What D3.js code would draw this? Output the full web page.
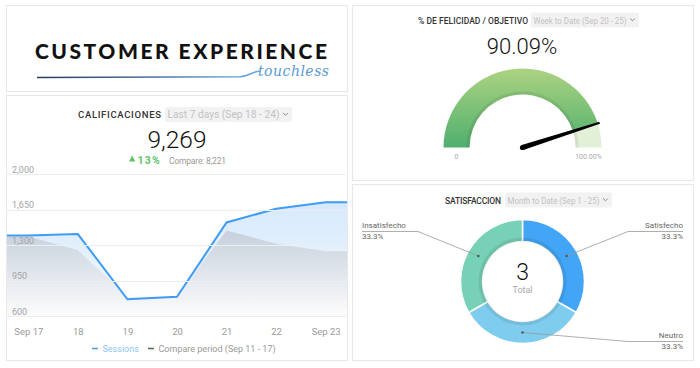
<!DOCTYPE html>
<html>
<head>
<meta charset="utf-8">
<script src="https://cdn.jsdelivr.net/npm/d3@7"></script>
<style>
  body { margin: 0; background: #fff; }
  svg { display: block; font-family: Roboto, "Noto Sans", sans-serif; }
</style>
</head>
<body>
<div id="dash"></div>
<script>
// data
var days = ["Sep 17", "18", "19", "20", "21", "22", "Sep 23"];
var sessions = [1395, 1410, 765, 790, 1525, 1660, 1724];
var comparePeriod = [1385, 1250, 790, 795, 1445, 1315, 1241];
var yTicks = [600, 950, 1300, 1650, 2000];
var gaugeValue = 90.09;
var gaugeMax = 100;
var satLabels = ["Satisfecho", "Neutro", "Insatisfecho"];
var satValues = [1, 1, 1];
var satColors = ["#42a5f5", "#7ecdee", "#77d1b6"];

var svg = d3.select("#dash").append("svg")
    .attr("width", 700)
    .attr("height", 368);
var defs = svg.append("defs");

// panels
var panels = [
    {x: 6, y: 5, w: 341, h: 86},
    {x: 6, y: 95, w: 341, h: 265},
    {x: 352, y: 5, w: 341, h: 175},
    {x: 352, y: 184, w: 341, h: 176}
];
svg.selectAll("rect.panel")
    .data(panels)
    .enter().append("rect")
    .attr("class", "panel")
    .attr("x", d => d.x + 0.5)
    .attr("y", d => d.y + 0.5)
    .attr("width", d => d.w)
    .attr("height", d => d.h)
    .attr("fill", "#fff")
    .attr("stroke", "#e8e8e8");

// header: title + grey dropdown
function header(x, y, title, titleW, period, boxX, boxW, size) {
    svg.append("text")
        .attr("x", x).attr("y", y)
        .attr("font-size", size).attr("font-weight", 500)
        .attr("textLength", titleW)
        .attr("fill", "#333")
        .text(title);
    svg.append("rect")
        .attr("x", boxX).attr("y", y - 11)
        .attr("width", boxW).attr("height", 15)
        .attr("rx", 2)
        .attr("fill", "#f2f2f2");
    svg.append("text")
        .attr("x", boxX + 2.5).attr("y", y)
        .attr("font-size", size + 1)
        .attr("textLength", boxW - 15)
        .attr("lengthAdjust", "spacingAndGlyphs")
        .attr("fill", "#c2c2c2")
        .text(period);
    var cx = boxX + boxW - 6.5;
    svg.append("path")
        .attr("d", `M${cx - 2.3},${y - 5} L${cx},${y - 2.7} L${cx + 2.3},${y - 5}`)
        .attr("fill", "none")
        .attr("stroke", "#888")
        .attr("stroke-width", 1);
}

// ---------- logo ----------
var logoGrad = defs.append("linearGradient").attr("id", "logoGrad");
logoGrad.append("stop").attr("offset", "0%").attr("stop-color", "#2a3a60");
logoGrad.append("stop").attr("offset", "100%").attr("stop-color", "#6aa8de");
svg.append("text")
    .attr("x", 35).attr("y", 59)
    .attr("font-family", "Lato, sans-serif")
    .attr("font-size", 21).attr("font-weight", 900)
    .attr("textLength", 292)
    .attr("lengthAdjust", "spacing")
    .attr("fill", "#111")
    .text("CUSTOMER EXPERIENCE");
svg.append("path")
    .attr("d", "M37,77.5 L240,76.8 C248,76.5 252,71.5 260,71")
    .attr("fill", "none")
    .attr("stroke", "url(#logoGrad)")
    .attr("stroke-width", 1.6);
svg.append("text")
    .attr("x", 258).attr("y", 76)
    .attr("font-family", "'DejaVu Serif', serif")
    .attr("font-style", "italic")
    .attr("font-size", 14)
    .attr("textLength", 71)
    .attr("fill", "#5b9bd5")
    .text("touchless");

// ---------- CALIFICACIONES line chart ----------
header(78, 118, "CALIFICACIONES", 83, "Last 7 days (Sep 18 - 24)", 165, 127, 9.5);

svg.append("text")
    .attr("x", 177).attr("y", 148)
    .attr("text-anchor", "middle")
    .attr("font-size", 24.5).attr("font-weight", 300)
    .attr("fill", "#111")
    .text(d3.format(",")(d3.sum(sessions)));
var change = Math.round((d3.sum(sessions) / d3.sum(comparePeriod) - 1) * 100);
svg.append("path")
    .attr("d", "M129,161.5 L132.2,155.5 L135.4,161.5 Z")
    .attr("fill", "#5fc46a");
svg.append("text")
    .attr("x", 137.5).attr("y", 164)
    .attr("font-size", 10.5).attr("font-weight", 700)
    .attr("letter-spacing", 1.2)
    .attr("fill", "#5fc46a")
    .text(change + "%");
svg.append("text")
    .attr("x", 169).attr("y", 164)
    .attr("font-size", 8.5).attr("fill", "#9a9a9a")
    .attr("textLength", 57)
    .text("Compare: " + d3.format(",")(d3.sum(comparePeriod)));

var plotLeft = 7, plotRight = 347;
var xScale = d3.scalePoint().domain(days).range([plotLeft, plotRight]).padding(0.43);
var yScale = d3.scaleLinear().domain([600, 2000]).range([316, 174.4]);

defs.append("clipPath").attr("id", "plotClip")
    .append("rect").attr("x", plotLeft).attr("y", 150)
    .attr("width", plotRight - plotLeft).attr("height", 166);

var blueGrad = defs.append("linearGradient").attr("id", "blueGrad")
    .attr("gradientUnits", "userSpaceOnUse")
    .attr("x1", 0).attr("x2", 0).attr("y1", yScale(1800)).attr("y2", yScale(600));
blueGrad.append("stop").attr("offset", "0%").attr("stop-color", "#d4e8fc");
blueGrad.append("stop").attr("offset", "100%").attr("stop-color", "#f5f9fe");
var greyGrad = defs.append("linearGradient").attr("id", "greyGrad")
    .attr("gradientUnits", "userSpaceOnUse")
    .attr("x1", 0).attr("x2", 0).attr("y1", yScale(1450)).attr("y2", yScale(600));
greyGrad.append("stop").attr("offset", "0%").attr("stop-color", "#c6d0db");
greyGrad.append("stop").attr("offset", "100%").attr("stop-color", "#fcfcfd");

// series points, held flat out to the plot edges
function seriesPoints(values) {
    var pts = values.map((v, i) => [xScale(days[i]), v]);
    pts.unshift([plotLeft, values[0]]);
    pts.push([plotRight, values[values.length - 1]]);
    return pts;
}
var area = d3.area().x(d => d[0]).y0(yScale(600)).y1(d => yScale(d[1]));
var line = d3.line().x(d => d[0]).y(d => yScale(d[1]));

var plot = svg.append("g").attr("clip-path", "url(#plotClip)");
plot.append("path").attr("d", area(seriesPoints(sessions))).attr("fill", "url(#blueGrad)");

// gridlines
svg.append("g").selectAll("line")
    .data(yTicks)
    .enter().append("line")
    .attr("x1", plotLeft).attr("x2", plotRight - 1)
    .attr("y1", d => Math.round(yScale(d)) + 0.5)
    .attr("y2", d => Math.round(yScale(d)) + 0.5)
    .attr("stroke", "#eceef1");

plot.append("path").attr("d", area(seriesPoints(comparePeriod))).attr("fill", "url(#greyGrad)");
plot.append("path").attr("d", line(seriesPoints(sessions)))
    .attr("fill", "none")
    .attr("stroke", "#3f9cf2")
    .attr("stroke-width", 2);

svg.append("g").selectAll("text")
    .data(yTicks)
    .enter().append("text")
    .attr("x", 12)
    .attr("y", d => yScale(d) - 1.5)
    .attr("font-size", 9).attr("fill", "#a3a3a3")
    .text(d => d3.format(",")(d));

var xAxis = svg.append("g")
    .attr("transform", "translate(0,335)")
    .call(d3.axisBottom(xScale).tickSize(0).tickPadding(0));
xAxis.select(".domain").remove();
xAxis.selectAll("text")
    .attr("dy", 0)
    .attr("font-family", "Roboto, sans-serif")
    .attr("font-size", 9.5)
    .attr("fill", "#9a9a9a");

// legend
svg.append("line").attr("x1", 92).attr("x2", 98).attr("y1", 348.5).attr("y2", 348.5)
    .attr("stroke", "#4aa3f3").attr("stroke-width", 1.6);
svg.append("text").attr("x", 102.5).attr("y", 351.5)
    .attr("font-size", 9).attr("fill", "#90c6f6").text("Sessions");
svg.append("line").attr("x1", 148).attr("x2", 154).attr("y1", 348.5).attr("y2", 348.5)
    .attr("stroke", "#666").attr("stroke-width", 1.6);
svg.append("text").attr("x", 158.5).attr("y", 351.5)
    .attr("font-size", 9).attr("fill", "#9a9a9a").text("Compare period (Sep 11 - 17)");

// ---------- gauge ----------
header(418, 23.5, "% DE FELICIDAD / OBJETIVO", 110, "Week to Date (Sep 20 - 25)", 531, 108, 8.5);
svg.append("text")
    .attr("x", 522).attr("y", 54)
    .attr("text-anchor", "middle")
    .attr("font-size", 22).attr("font-weight", 300)
    .attr("fill", "#111")
    .text(gaugeValue.toFixed(2) + "%");

var gx = 522.5, gy = 147.5, gOuter = 79, gInner = 53;
var angle = d3.scaleLinear().domain([0, gaugeMax]).range([-Math.PI / 2, Math.PI / 2]);
// gradient in the gauge group's own coordinates
var gGrad = defs.append("linearGradient").attr("id", "gaugeGrad")
    .attr("gradientUnits", "userSpaceOnUse")
    .attr("x1", 0).attr("x2", 0).attr("y1", -gOuter).attr("y2", 0);
gGrad.append("stop").attr("offset", "0%").attr("stop-color", "#acd381");
gGrad.append("stop").attr("offset", "100%").attr("stop-color", "#50af6e");

var gauge = svg.append("g").attr("transform", `translate(${gx},${gy})`);
var gArc = d3.arc().innerRadius(gInner).outerRadius(gOuter);
gauge.append("path")
    .attr("d", gArc({startAngle: angle(gaugeValue), endAngle: angle(gaugeMax)}))
    .attr("fill", "#e3f0d8");
gauge.append("path")
    .attr("d", gArc({startAngle: angle(0), endAngle: angle(gaugeValue)}))
    .attr("fill", "url(#gaugeGrad)");
gauge.append("path")
    .attr("d", d3.arc().innerRadius(gInner).outerRadius(gInner + 3)({startAngle: angle(0), endAngle: angle(gaugeMax)}))
    .attr("fill", "#000").attr("opacity", 0.07);

// needle
var a = angle(gaugeValue);
var nLen = gOuter + 2;
var ux = Math.sin(a), uy = -Math.cos(a);
var px = -uy, py = ux;
var needle = [
    [px * 2.6, py * 2.6],
    [ux * nLen + px * 1, uy * nLen + py * 1],
    [ux * nLen - px * 1, uy * nLen - py * 1],
    [-px * 2.6, -py * 2.6]
];
gauge.append("path").attr("d", "M" + needle.join("L") + "Z").attr("fill", "#000");
gauge.append("circle").attr("r", 2.6).attr("fill", "#000");

svg.append("text").attr("x", gx - (gOuter + gInner) / 2).attr("y", 159)
    .attr("text-anchor", "middle").attr("font-size", 7).attr("fill", "#aaa").text("0");
svg.append("text").attr("x", gx + (gOuter + gInner) / 2).attr("y", 159)
    .attr("text-anchor", "middle").attr("font-size", 7).attr("fill", "#aaa")
    .text(gaugeMax.toFixed(2) + "%");

// ---------- SATISFACCION donut ----------
header(445, 203.5, "SATISFACCION", 56, "Month to Date (Sep 1 - 25)", 505, 107, 8.5);

var dx = 522.5, dy = 281.5, dOuter = 62, dInner = 40;
var pie = d3.pie().sort(null).value(d => d);
var arcs = pie(satValues);
var dArc = d3.arc().innerRadius(dInner).outerRadius(dOuter);
var donut = svg.append("g").attr("transform", `translate(${dx},${dy})`);
donut.selectAll("path.slice")
    .data(arcs)
    .enter().append("path")
    .attr("class", "slice")
    .attr("d", dArc)
    .attr("fill", (d, i) => satColors[i])
    .attr("stroke", "#fff")
    .attr("stroke-width", 1.5);
donut.append("path")
    .attr("d", d3.arc().innerRadius(dInner).outerRadius(dInner + 4)({startAngle: 0, endAngle: 2 * Math.PI}))
    .attr("fill", "#000").attr("opacity", 0.08);
donut.append("text").attr("y", -1.5).attr("text-anchor", "middle")
    .attr("font-size", 23).attr("font-weight", 300).attr("fill", "#111")
    .text(d3.sum(satValues));
donut.append("text").attr("y", 11).attr("text-anchor", "middle")
    .attr("font-size", 9).attr("fill", "#aaa").text("Total");

// callout labels: side and height of each label row
var labelLayout = [
    {side: "right", y: 231},
    {side: "right", y: 341},
    {side: "left", y: 231}
];
var total = d3.sum(satValues);
arcs.forEach(function(d, i) {
    var c = dArc.centroid(d);
    var lay = labelLayout[i];
    var edge = lay.side === "right" ? 683 : 362;
    var inner = lay.side === "right" ? 628 : 418;
    var anchor = lay.side === "right" ? "end" : "start";
    svg.append("polyline")
        .attr("points", [[edge, lay.y + 0.5], [inner, lay.y + 0.5], [dx + c[0], dy + c[1]]].join(" "))
        .attr("fill", "none").attr("stroke", "#999").attr("stroke-width", 0.8);
    svg.append("circle").attr("cx", dx + c[0]).attr("cy", dy + c[1]).attr("r", 1.3).attr("fill", "#555");
    svg.append("text").attr("x", edge).attr("y", lay.y - 3)
        .attr("text-anchor", anchor).attr("font-size", 8).attr("fill", "#666")
        .text(satLabels[i]);
    svg.append("text").attr("x", edge).attr("y", lay.y + 7.5)
        .attr("text-anchor", anchor).attr("font-size", 8).attr("fill", "#666")
        .text((satValues[i] / total * 100).toFixed(1) + "%");
});
</script>
</body>
</html>
